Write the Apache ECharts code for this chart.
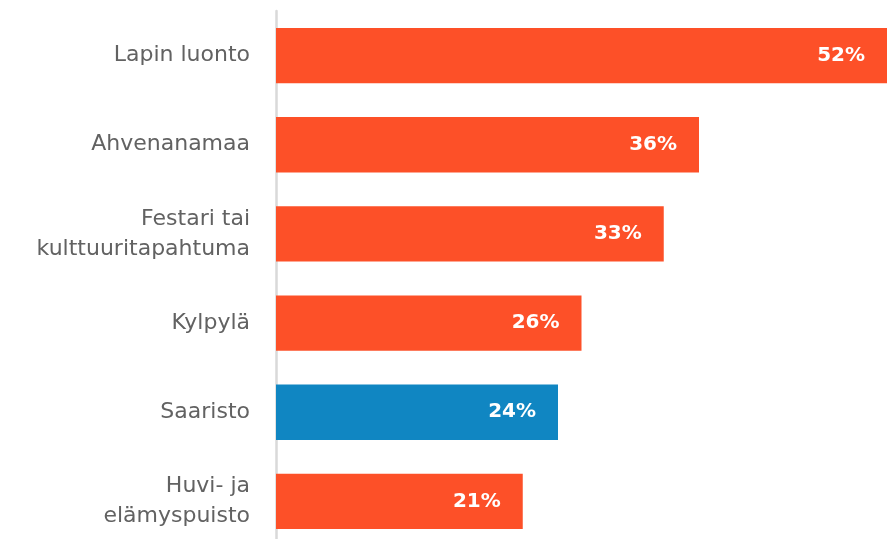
<!DOCTYPE html>
<html>
<head>
<meta charset="utf-8">
<script src="https://cdn.jsdelivr.net/npm/echarts@6/dist/echarts.min.js"></script>
<style>
html, body { margin: 0; padding: 0; background: #fff; overflow: hidden; }
#chart { width: 891px; height: 546px; }
</style>
</head>
<body>
<div id="chart"></div>
<script>
var categories = ["Lapin luonto", "Ahvenanamaa", "Festari tai\nkulttuuritapahtuma", "Kylpylä", "Saaristo", "Huvi- ja\nelämyspuisto"];
var values = [52, 36, 33, 26, 24, 21];
var highlight = "Saaristo";

var myChart = echarts.init(document.getElementById("chart"));

var option = {
	animation: false,
	grid: { left: 276, right: 4, top: 11, bottom: 0, containLabel: false },
	xAxis: {
		type: "value",
		min: 0,
		max: 52,
		show: false
	},
	yAxis: {
		type: "category",
		inverse: true,
		data: categories,
		axisLine: { show: true, lineStyle: { color: "#d9d9d9", width: 2.5 } },
		axisTick: { show: false },
		axisLabel: {
			margin: 26,
			color: "#626262",
			fontFamily: "DejaVu Sans",
			fontSize: 22,
			lineHeight: 30,
			align: "right"
		}
	},
	series: [{
		type: "bar",
		barCategoryGap: "38%",
		data: values.map(function (v, i) {
			return {
				value: v,
				itemStyle: { color: categories[i] === highlight ? "#1086c2" : "#fd5028" }
			};
		}),
		label: {
			show: true,
			position: "insideRight",
			distance: 22,
			color: "#fff",
			fontFamily: "DejaVu Sans",
			fontWeight: "bold",
			fontSize: 20,
			formatter: "{c}%"
		}
	}]
};
myChart.setOption(option);
</script>
</body>
</html>
